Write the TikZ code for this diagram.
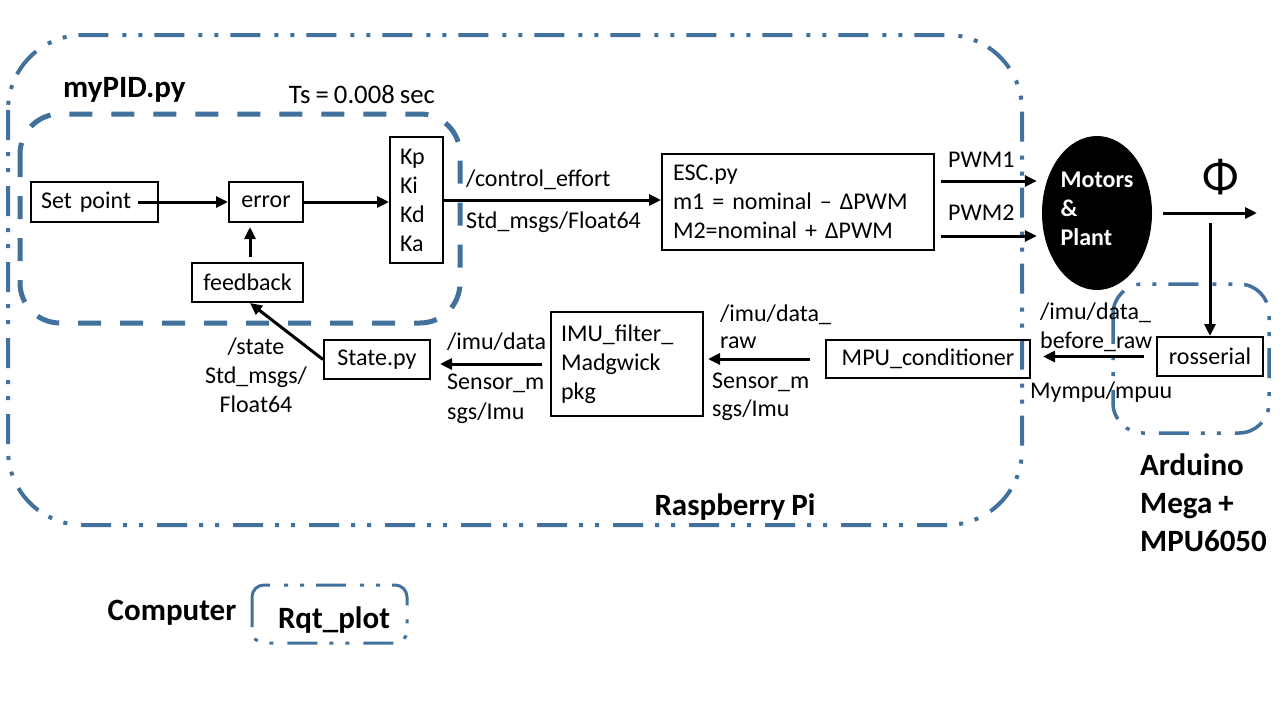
\documentclass[tikz,border=0pt]{standalone}
\usepackage{fontspec}
\setmainfont[WordSpace=0.85]{Carlito}
\usetikzlibrary{arrows.meta,shapes.geometric,calc}
\definecolor{frame}{RGB}{65,113,156}
\newcommand\fnorm{\fontsize{24}{29}\selectfont}
\newcommand\fbig{\fontsize{31}{38}\selectfont\bfseries}
\newcommand\fts{\fontsize{26.7}{32}\selectfont}
\newcommand\fphi{\fontsize{48}{52}\selectfont}
\begin{document}
\begin{tikzpicture}[x=1pt,y=-1pt,
 box/.style={draw, line width=2pt, inner sep=0pt, font=\fnorm},
 lbl/.style={inner sep=0pt, font=\fnorm, anchor=west},
 title/.style={inner sep=0pt, font=\fbig},
 arr/.style={line width=3pt, -{Triangle[length=12pt,width=11pt]}},
 ddot/.style={draw=frame, line width=4pt, dash pattern=on 30pt off 12pt on 4pt off 12pt on 4pt off 14pt},
 dsh/.style={draw=frame, line width=5pt, dash pattern=on 23pt off 19pt}]
\useasboundingbox (0,0) rectangle (1280,720);
\fill[white] (0,0) rectangle (1280,720);
% frames
\draw[ddot, rounded corners=75pt] (8,35) rectangle (1022,525);
\draw[dsh, rounded corners=40pt] (20,114) rectangle (460,323);
\draw[ddot, line width=3.5pt, rounded corners=30pt] (1113,284) rectangle (1269,433);
\draw[ddot, line width=3pt, rounded corners=12pt] (252,585) rectangle (407,643);
% boxes
\node[box, minimum width=127pt, minimum height=40pt, text width=107pt, inner xsep=10pt, align=left] (sp) at (94.5,202) {Set point};
\node[box, minimum width=74pt, minimum height=40pt] (err) at (266,202) {error};
\node[box, minimum width=53pt, minimum height=126pt, text width=33pt, align=left, inner xsep=10pt] (gains) at (416.5,200) {Kp\\Ki\\Kd\\Ka};
\node[box, minimum width=111pt, minimum height=39pt] (fb) at (247.5,282.5) {feedback};
\node[box, minimum width=272pt, minimum height=96pt, text width=250pt, inner xsep=11pt, align=left] (esc) at (798,202) {ESC.py\\m1 = nominal – ΔPWM\\M2=nominal + ΔPWM};
\node[box, minimum width=106pt, minimum height=39pt] (state) at (377,359.5) {State.py};
\node[box, minimum width=152pt, minimum height=104pt, text width=132pt, inner xsep=10pt, align=left] (imu) at (627,364) {IMU\_filter\_\\Madgwick\\pkg};
\node[box, minimum width=204pt, minimum height=38pt] (mpu) at (928,359) {MPU\_conditioner};
\node[box, minimum width=106pt, minimum height=39pt] (ros) at (1210,356.5) {rosserial};
\node[ellipse, fill=black, minimum width=110pt, minimum height=154pt, inner sep=0pt] (mot) at (1097,213) {};
\node[inner sep=0pt, text=white, font=\fnorm\bfseries, align=left] (motlbl) at (1097,209) {Motors\\\&\\Plant};
\coordinate (phiend) at (1257,213);
\coordinate (tap) at (1210,223);
% arrows
\draw[arr] ([xshift=-21pt]sp.east) -- (err.west);
\draw[arr] (err.east) -- (gains.west |- err.east);
\draw[arr, shorten <=5pt, shorten >=4pt] ([xshift=2.5pt]fb.north) -- ([xshift=2.5pt]fb.north |- err.south);
\draw[arr] (state.west) -- ([xshift=2.5pt]fb.south);
\draw[arr, shorten <=8pt, shorten >=9pt] (imu.west) -- (imu.west -| state.east);
\draw[arr, shorten <=15pt, shorten >=4pt] (mpu.west) -- (mpu.west -| imu.east);
\draw[arr, shorten <=12pt, shorten >=12pt] (ros.west) -- (ros.west -| mpu.east);
\draw[arr] (gains.east) -- (gains.east -| esc.west);
\draw[arr, shorten <=6pt, shorten >=5pt] ([yshift=21pt]esc.east) -- ([yshift=21pt]esc.east -| mot.west);
\draw[arr, shorten <=6pt, shorten >=5pt] ([yshift=-34pt]esc.east) -- ([yshift=-34pt]esc.east -| mot.west);
\draw[arr, shorten <=11pt] (mot.east) -- (phiend);
\draw[arr] (tap) -- (ros.north);
% labels
\node[lbl] (lce) at (466,180) {/control\_effort};
\node[lbl] (lsf) at (466,222) {Std\_msgs/Float64};
\node[lbl] (lp1) at (948,160) {PWM1};
\node[lbl] (lp2) at (948,213) {PWM2};
\node[inner sep=0pt, font=\fphi] (phi) at (1221,177) {Φ};
\node[lbl] (lb1) at (1040,313) {/imu/data\_};
\node[lbl] (lb2) at (1040,342) {before\_raw};
\node[lbl] (lmy) at (1030,392) {Mympu/mpuu};
\node[lbl] (lr1) at (720,315) {/imu/data\_};
\node[lbl] (lr2) at (720,343) {raw};
\node[lbl] (lr3) at (712,382) {Sensor\_m};
\node[lbl] (lr4) at (712,410) {sgs/Imu};
\node[lbl] (ll1) at (447,342) {/imu/data};
\node[lbl] (ll2) at (447,383) {Sensor\_m};
\node[lbl] (ll3) at (447,413) {sgs/Imu};
\node[inner sep=0pt, font=\fnorm, align=center] (lst) at (256,375) {/state\\Std\_msgs/\\Float64};
% titles
\node[title, anchor=west] (tpid) at (63,90) {myPID.py};
\node[inner sep=0pt, font=\fts] (tts) at (362,94) {Ts = 0.008 sec};
\node[title] (trpi) at (735,507) {Raspberry Pi};
\node[title, anchor=west, align=left] (tard) at (1140,503) {Arduino\\Mega +\\MPU6050};
\node[title] (tcomp) at (172,613) {Computer};
\node[title] (trqt) at (334,620) {Rqt\_plot};
\end{tikzpicture}
\end{document}
